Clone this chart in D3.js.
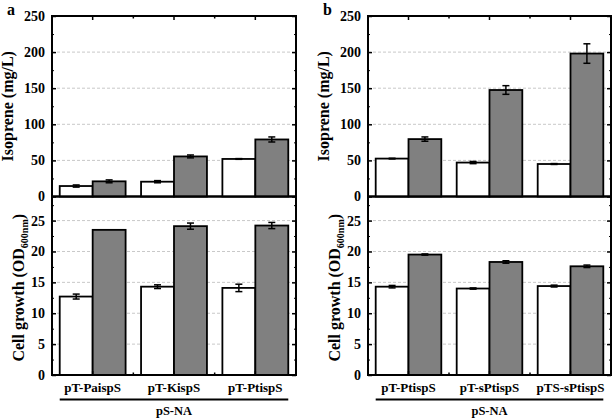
<!DOCTYPE html>
<html>
<head>
<meta charset="utf-8">
<script src="https://cdn.jsdelivr.net/npm/d3@7"></script>
<style>
  body { margin: 0; background: #fff; }
  svg text { font-family: "Liberation Serif", "Times New Roman", serif; font-weight: bold; fill: #000; }
</style>
</head>
<body>
<div id="chart"></div>
<script>
// data
var catsA = ["pT-PaispS", "pT-KispS", "pT-PtispS"];
var catsB = ["pT-PtispS", "pT-sPtispS", "pTS-sPtispS"];
var groupLabel = "pS-NA";

var isoWhiteA = [14.5, 20.5, 52];
var isoWhiteErrA = [1.5, 1.5, 0.5];
var isoGrayA = [21, 55.5, 79];
var isoGrayErrA = [2, 2, 3.5];
var odWhiteA = [12.7, 14.3, 14.1];
var odWhiteErrA = [0.4, 0.3, 0.6];
var odGrayA = [23.5, 24.1, 24.2];
var odGrayErrA = [0, 0.5, 0.5];

var isoWhiteB = [52.5, 47, 45];
var isoWhiteErrB = [0.5, 1.5, 0.6];
var isoGrayB = [79.5, 147.5, 198];
var isoGrayErrB = [3, 6, 13.5];
var odWhiteB = [14.3, 14.0, 14.4];
var odWhiteErrB = [0.2, 0.1, 0.15];
var odGrayB = [19.5, 18.3, 17.6];
var odGrayErrB = [0.1, 0.2, 0.2];

var isoTicks = [0, 50, 100, 150, 200, 250];
var isoMinor = [25, 75, 125, 175, 225];
var odTicks = [0, 5, 10, 15, 20, 25];
var odMinor = [2.5, 7.5, 12.5, 17.5, 22.5, 27.5];

var w = 614, h = 419;
var yTopPx = 16, yMidPx = 196.5, yBotPx = 375;

var svg = d3.select("#chart").append("svg")
    .attr("width", w)
    .attr("height", h);

var yIso = d3.scaleLinear().domain([0, 250]).range([yMidPx, yTopPx]);
var yOd = d3.scaleLinear().domain([0, 28.9]).range([yBotPx, yMidPx]);

function makeRows(cats, white, whiteErr, gray, grayErr) {
    return cats.map((c, i) => ({
        cat: c,
        bars: [
            { key: "white", value: white[i], err: whiteErr[i] },
            { key: "gray", value: gray[i], err: grayErr[i] }
        ]
    }));
}

var panels = [
    { letter: "a", x0: 52, x1: 296, cats: catsA,
      iso: makeRows(catsA, isoWhiteA, isoWhiteErrA, isoGrayA, isoGrayErrA),
      od: makeRows(catsA, odWhiteA, odWhiteErrA, odGrayA, odGrayErrA) },
    { letter: "b", x0: 368, x1: 611, cats: catsB,
      iso: makeRows(catsB, isoWhiteB, isoWhiteErrB, isoGrayB, isoGrayErrB),
      od: makeRows(catsB, odWhiteB, odWhiteErrB, odGrayB, odGrayErrB) }
];

var fill = { white: "#ffffff", gray: "#808080" };

function drawPlot(g, p, rows, y, ticks, minor, top, bottom, isBottom) {
    var x = d3.scaleBand().domain(p.cats).range([p.x0, p.x1])
        .paddingInner(0.19).paddingOuter(0.095);
    var xs = d3.scaleBand().domain(["white", "gray"]).range([0, x.bandwidth()]);

    // dashed grid
    g.selectAll(".grid").data(ticks.filter(t => t > 0))
        .enter().append("line")
        .attr("x1", p.x0).attr("x2", p.x1)
        .attr("y1", d => y(d)).attr("y2", d => y(d))
        .attr("stroke", "#c8c8c8")
        .attr("stroke-width", 1)
        .attr("stroke-dasharray", "3,2");

    // bars
    var grp = g.selectAll(".grp").data(rows).enter().append("g")
        .attr("transform", d => `translate(${x(d.cat)},0)`);
    grp.selectAll("rect").data(d => d.bars).enter().append("rect")
        .attr("x", d => xs(d.key))
        .attr("y", d => y(d.value))
        .attr("width", xs.bandwidth())
        .attr("height", d => y(0) - y(d.value))
        .attr("fill", d => fill[d.key])
        .attr("stroke", "#000")
        .attr("stroke-width", 1.8);

    // error bars
    var eb = grp.selectAll(".eb").data(d => d.bars.filter(b => b.err > 0)).enter().append("g");
    eb.append("line")
        .attr("x1", d => xs(d.key) + xs.bandwidth() / 2)
        .attr("x2", d => xs(d.key) + xs.bandwidth() / 2)
        .attr("y1", d => y(d.value - d.err))
        .attr("y2", d => y(d.value + d.err))
        .attr("stroke", "#000").attr("stroke-width", 1.5);
    eb.selectAll(".cap").data(d => [d.value - d.err, d.value + d.err].map(v => ({ key: d.key, v: v })))
        .enter().append("line")
        .attr("x1", d => xs(d.key) + xs.bandwidth() / 2 - 3.5)
        .attr("x2", d => xs(d.key) + xs.bandwidth() / 2 + 3.5)
        .attr("y1", d => y(d.v)).attr("y2", d => y(d.v))
        .attr("stroke", "#000").attr("stroke-width", 1.5);

    // y axes: inward ticks on both sides
    var left = g.append("g").attr("transform", `translate(${p.x0},0)`)
        .call(d3.axisLeft(y).tickValues(ticks).tickSizeInner(-4).tickSizeOuter(0).tickPadding(7));
    left.select(".domain").remove();
    left.selectAll("text").style("font-size", "14px").style("font-family", null);
    left.selectAll("line").attr("stroke-width", 1.5);

    g.append("g").attr("transform", `translate(${p.x0},0)`)
        .call(d3.axisLeft(y).tickValues(minor).tickSize(-2).tickFormat(""))
        .call(a => a.select(".domain").remove());

    g.append("g").attr("transform", `translate(${p.x1},0)`)
        .call(d3.axisRight(y).tickValues(ticks).tickSize(-4).tickFormat(""))
        .call(a => a.select(".domain").remove())
        .selectAll("line").attr("stroke-width", 1.5);
    g.append("g").attr("transform", `translate(${p.x1},0)`)
        .call(d3.axisRight(y).tickValues(minor).tickSize(-2).tickFormat(""))
        .call(a => a.select(".domain").remove());

    // x ticks: major at group centres, minor at group boundaries
    var bounds = p.cats.slice(1).map((c, i) => (x(p.cats[i]) + x.bandwidth() + x(c)) / 2);
    var edgeY = isBottom ? bottom : top;
    var dir = isBottom ? -1 : 1;
    g.selectAll(".xmaj").data(p.cats).enter().append("line")
        .attr("x1", d => x(d) + x.bandwidth() / 2).attr("x2", d => x(d) + x.bandwidth() / 2)
        .attr("y1", edgeY).attr("y2", edgeY + dir * 4)
        .attr("stroke", "#000").attr("stroke-width", 1.5);
    g.selectAll(".xmin").data(bounds).enter().append("line")
        .attr("x1", d => d).attr("x2", d => d)
        .attr("y1", edgeY).attr("y2", edgeY + dir * 2.5)
        .attr("stroke", "#000").attr("stroke-width", 1.5);

    // frame
    g.append("rect")
        .attr("x", p.x0).attr("y", top)
        .attr("width", p.x1 - p.x0).attr("height", bottom - top)
        .attr("fill", "none").attr("stroke", "#000").attr("stroke-width", 2);

    if (isBottom) {
        var xa = g.append("g").attr("transform", `translate(0,${bottom})`)
            .call(d3.axisBottom(x).tickSize(0).tickPadding(8));
        xa.select(".domain").remove();
        xa.selectAll("text").style("font-size", "13px").style("font-family", null);

        var first = x(p.cats[0]);
        var last = x(p.cats[p.cats.length - 1]) + x.bandwidth();
        g.append("line")
            .attr("x1", first).attr("x2", last)
            .attr("y1", 399.5).attr("y2", 399.5)
            .attr("stroke", "#000").attr("stroke-width", 1.8);
        g.append("text")
            .attr("x", (first + last) / 2).attr("y", 415)
            .attr("text-anchor", "middle")
            .style("font-size", "12.5px")
            .text(groupLabel);
    }
}

panels.forEach(function(p) {
    var g = svg.append("g");
    drawPlot(g.append("g"), p, p.od, yOd, odTicks, odMinor, yMidPx, yBotPx, true);
    drawPlot(g.append("g"), p, p.iso, yIso, isoTicks, isoMinor, yTopPx, yMidPx, false);

    // panel letter
    g.append("text")
        .attr("x", p.x0 - 45).attr("y", 15)
        .style("font-size", "16px")
        .text(p.letter);

    // y titles
    g.append("text")
        .attr("transform", `translate(${p.x0 - 39},${(yTopPx + yMidPx) / 2}) rotate(-90)`)
        .attr("text-anchor", "middle")
        .style("font-size", "16px")
        .text("Isoprene (mg/L)");

    var t = g.append("text")
        .attr("transform", `translate(${p.x0 - 28},${(yMidPx + yBotPx) / 2 + 2}) rotate(-90)`)
        .attr("text-anchor", "middle")
        .style("font-size", "16px");
    t.append("tspan").text("Cell growth (OD");
    t.append("tspan").attr("dy", 4).style("font-size", "10px").text("600nm");
    t.append("tspan").attr("dy", -4).text(")");
});
</script>
</body>
</html>
